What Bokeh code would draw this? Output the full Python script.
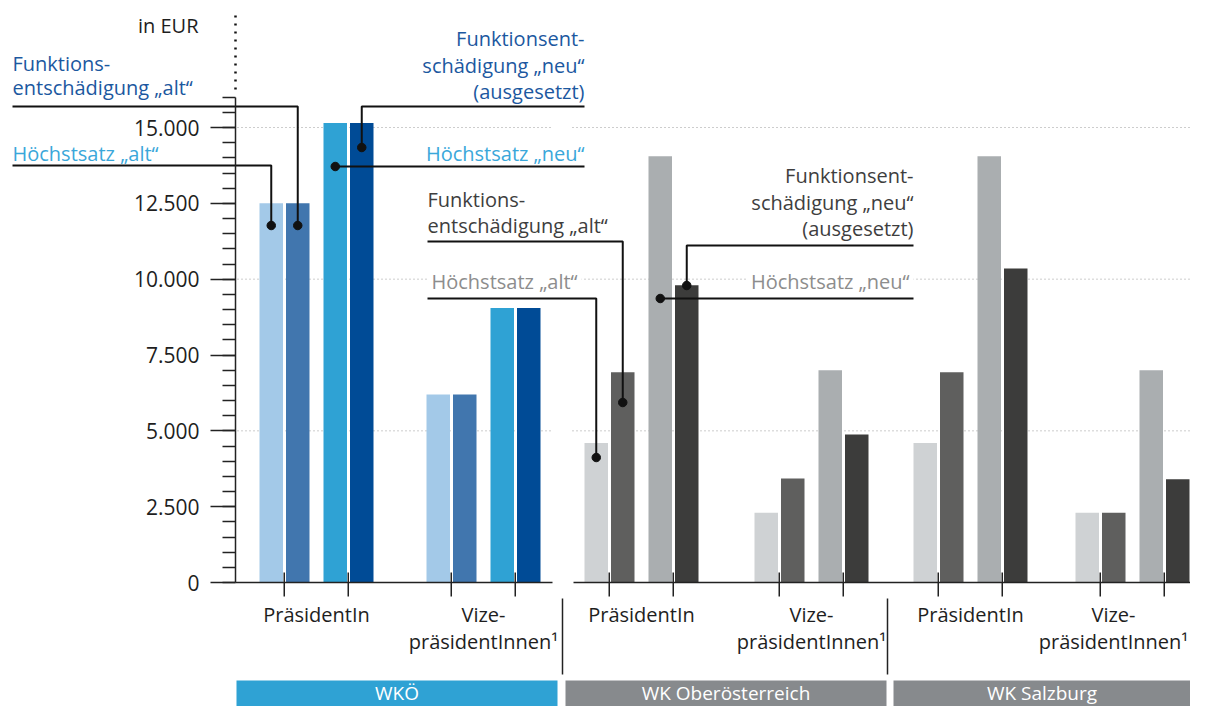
from bokeh.plotting import figure
from bokeh.models import Range1d, LinearAxis, FixedTicker, ColumnDataSource
from bokeh.core.properties import value
from bokeh.embed import file_html
from bokeh.resources import INLINE

# ---------------- data ----------------
kammern = ["WKÖ", "WK Oberösterreich", "WK Salzburg"]
funktion_lines = [["PräsidentIn"], ["Vize-", "präsidentInnen¹"]]
serien = ["Höchstsatz „alt“", "Funktionsentschädigung „alt“",
          "Höchstsatz „neu“", "Funktionsentschädigung „neu“ (ausgesetzt)"]
# order of groups: WKÖ Präs, WKÖ Vize, OÖ Präs, OÖ Vize, Sbg Präs, Sbg Vize
hoechst_alt = [12500, 6200, 4600, 2300, 4600, 2300]
funkt_alt = [12500, 6200, 6930, 3430, 6930, 2300]
hoechst_neu = [15150, 9050, 14050, 7000, 14050, 7000]
funkt_neu = [15150, 9050, 9800, 4880, 10350, 3400]
y_ticks = [0, 2500, 5000, 7500, 10000, 12500, 15000]
y_tick_labels = ["0", "2.500", "5.000", "7.500", "10.000", "12.500", "15.000"]
grid_values = [5000, 10000, 15000]
unit_label = "in EUR"

# ---------------- layout / style ----------------
PX = 455 / 15000.0          # pixels per EUR
ZERO_PY = 582               # pixel row of value 0


def vy(py):
    return (ZERO_PY - py) / PX


W, H = 1190, 706
GROUP_LEFT = [259, 426, 584, 754, 913, 1075]
BAR_OFF = [0, 26.5, 64, 90.5]
BAR_W = 23.5
BLUES = ["#a3c9e8", "#4176ae", "#2fa2d4", "#004b96"]
GRAYS = ["#cfd2d4", "#5f5f5e", "#aaaeb0", "#3c3c3b"]
FONT = value("Open Sans")
FS = "20px"
TXT = "#1e1e1e"
C_FUNKT_B = "#1c58a0"
C_HOECH_B = "#3aa7da"
C_FUNKT_G = "#3e3e3e"
C_HOECH_G = "#8d8d8d"

p = figure(width=W, height=H, x_range=Range1d(0, W), y_range=Range1d(vy(H), vy(0)),
           output_backend="svg", toolbar_location=None, min_border=0,
           x_axis_type=None, y_axis_type=None, title=None)
p.outline_line_color = None
p.background_fill_color = "white"
p.border_fill_color = "white"


def txt(x, py, s, align, color, size=FS, bg=None):
    kw = {}
    if bg:
        kw = dict(background_fill_color=bg, padding=4)
    p.text(x=[x], y=[vy(py)], text=[s], text_align=align, text_baseline="middle",
           text_font=FONT, text_font_size=size, text_color=color, **kw)


# dotted gridlines (broken between WKÖ and the Landeskammern)
gx0, gx1, gy = [], [], []
for g in grid_values:
    for a, b in [(237, 553), (572, 1206)]:
        gx0.append(a); gx1.append(b); gy.append(g)
p.segment(x0=gx0, x1=gx1, y0=gy, y1=gy, line_color="#9a9a9a", line_width=1, line_dash="1 3")

# bars
series = [hoechst_alt, funkt_alt, hoechst_neu, funkt_neu]
centers = [[gl + BAR_OFF[j] + BAR_W / 2 for gl in GROUP_LEFT] for j in range(4)]
for j, vals in enumerate(series):
    cols = [BLUES[j] if gi < 2 else GRAYS[j] for gi in range(len(GROUP_LEFT))]
    src = ColumnDataSource(dict(x=centers[j], top=vals, c=cols))
    p.vbar(x="x", top="top", bottom=0, width=BAR_W, fill_color="c", line_color=None, source=src)

# labels that interrupt the gridline
txt(427, 281, "Höchstsatz „alt“", "left", C_HOECH_G, bg="white")
txt(913, 281, "Höchstsatz „neu“", "right", C_HOECH_G, bg="white")

# x axis line (broken)
p.segment(x0=[235, 573], x1=[552, 1206], y0=[0, 0], y1=[0, 0], line_color="#222222", line_width=1.5)
# category ticks
tx = []
for gl in GROUP_LEFT:
    tx += [gl + BAR_OFF[0] + BAR_W + 1.25, gl + BAR_OFF[2] + BAR_W + 1.25]
p.segment(x0=tx, x1=tx, y0=[vy(572)] * len(tx), y1=[vy(596)] * len(tx), line_color="#222222", line_width=1.5)
# separators between Kammern
p.segment(x0=[562, 887], x1=[562, 887], y0=[vy(598)] * 2, y1=[vy(674)] * 2, line_color="#222222", line_width=1.5)

# y axis
yax = LinearAxis(fixed_location=235, bounds=(0, 16000),
                 ticker=FixedTicker(ticks=y_ticks, minor_ticks=list(range(0, 16001, 500))),
                 major_label_overrides={t: l for t, l in zip(y_ticks, y_tick_labels)})
yax.axis_line_color = "#222222"
yax.axis_line_width = 1.5
yax.major_tick_line_color = "#222222"
yax.major_tick_line_width = 1.5
yax.minor_tick_line_color = "#222222"
yax.minor_tick_line_width = 1.5
yax.major_tick_out = 25
yax.major_tick_in = 0
yax.minor_tick_out = 13
yax.minor_tick_in = 0
yax.major_label_standoff = 11
yax.major_label_text_font = "Open Sans"
yax.major_label_text_font_size = "21px"
yax.major_label_text_color = TXT
p.add_layout(yax, "left")

# dotted continuation of the y axis + unit
p.line(x=[235, 235], y=[vy(15), vy(90)], line_color="#111111", line_width=2.5, line_dash="2 6")
txt(198, 25, unit_label, "right", TXT)

# leader lines
cb = [centers[j][0] for j in range(4)]   # WKÖ PräsidentIn
cg = [centers[j][2] for j in range(4)]   # WK OÖ PräsidentIn
paths = [
    [(12, 165), (cb[0], 165), (cb[0], 225)],
    [(12, 106), (cb[1], 106), (cb[1], 225)],
    [(cb[2], 166), (584, 166)],
    [(cb[3], 147), (cb[3], 106), (584, 106)],
    [(427, 298), (cg[0], 298), (cg[0], 457)],
    [(427, 241), (cg[1], 241), (cg[1], 402)],
    [(cg[2], 298), (913, 298)],
    [(cg[3], 285), (cg[3], 245), (913, 245)],
]
p.multi_line(xs=[[a for a, b in pth] for pth in paths], ys=[[vy(b) for a, b in pth] for pth in paths],
             line_color="#111111", line_width=2)
dots = [(cb[0], 225), (cb[1], 225), (cb[2], 166), (cb[3], 147),
        (cg[0], 457), (cg[1], 402), (cg[2], 298), (cg[3], 285)]
p.scatter(x=[a for a, b in dots], y=[vy(b) for a, b in dots], size=8.5, color="#111111")

# annotation texts
fa = ["Funktions-", "entschädigung „alt“"]
fn = ["Funktionsent-", "schädigung „neu“", "(ausgesetzt)"]
txt(12, 63, fa[0], "left", C_FUNKT_B)
txt(12, 87, fa[1], "left", C_FUNKT_B)
txt(12, 153, "Höchstsatz „alt“", "left", C_HOECH_B)
txt(584, 38, fn[0], "right", C_FUNKT_B)
txt(584, 64.5, fn[1], "right", C_FUNKT_B)
txt(584, 91, fn[2], "right", C_FUNKT_B)
txt(584, 153, "Höchstsatz „neu“", "right", C_HOECH_B)

txt(427, 199, fa[0], "left", C_FUNKT_G)
txt(427, 225, fa[1], "left", C_FUNKT_G)
txt(913, 175, fn[0], "right", C_FUNKT_G)
txt(913, 201.5, fn[1], "right", C_FUNKT_G)
txt(913, 228, fn[2], "right", C_FUNKT_G)

# category labels
for gi, gl in enumerate(GROUP_LEFT):
    cx = gl + (BAR_OFF[3] + BAR_W) / 2
    cx = min(cx, W - 77)          # keep the last label inside the picture
    lines = funktion_lines[gi % 2]
    for li, s in enumerate(lines):
        txt(cx, 614 + 27 * li, s, "center", TXT)

# Kammer boxes
BOX_L = [236, 565, 893]
BOX_R = [557, 886, 1206]
box_cols = ["#2fa2d4", "#878a8d", "#878a8d"]
p.quad(left=BOX_L, right=BOX_R, bottom=[vy(H + 50)] * 3, top=[vy(680)] * 3, fill_color=box_cols, line_color=None)
for a, b, s in zip(BOX_L, BOX_R, kammern):
    txt((a + min(b, W)) / 2, 692, s, "center", "white", size="19px")

open("out.html", "w").write(file_html(p, INLINE))
